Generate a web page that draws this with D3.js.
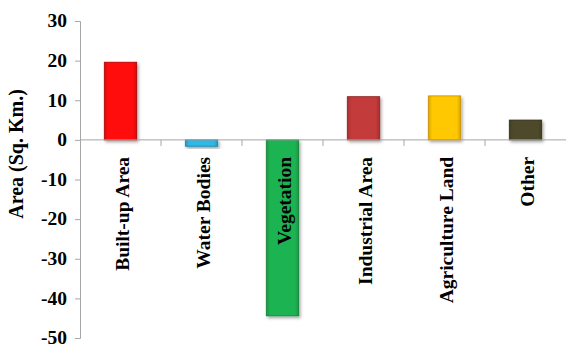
<!DOCTYPE html>
<html>
<head>
<meta charset="utf-8">
<script src="https://cdn.jsdelivr.net/npm/d3@7"></script>
<style>
  body { margin: 0; background: #fff; }
</style>
</head>
<body>
<div id="chart"></div>
<script>
const width = 566;
const height = 347;
const serif = "'Liberation Serif', 'Times New Roman', 'DejaVu Serif', serif";
const categories = ["Built-up Area", "Water Bodies", "Vegetation", "Industrial Area", "Agriculture Land", "Other"];
const values = [19.6, -1.6, -44.4, 10.9, 11.1, 5.0];
const colors = ["#ff1010", "#2fb8e6", "#1eb452", "#c43a3a", "#ffc800", "#4d4a2c"];
const edges = ["#b00000", "#1480a8", "#118035", "#8a2020", "#c89000", "#2e2c18"];
const yTicks = [30, 20, 10, 0, -10, -20, -30, -40, -50];

const margin = { left: 80, top: 21, right: 0, bottom: 9 };

const svg = d3.select("#chart")
    .append("svg")
    .attr("width", width)
    .attr("height", height);

const defs = svg.append("defs");
const shadow = defs.append("filter").attr("id", "shadow")
    .attr("x", "-20%").attr("y", "-20%").attr("width", "150%").attr("height", "150%");
shadow.append("feDropShadow")
    .attr("dx", 1.5).attr("dy", 2).attr("stdDeviation", 1.5)
    .attr("flood-color", "#000").attr("flood-opacity", 0.35);

colors.forEach((c, i) => {
    const g = defs.append("linearGradient").attr("id", "grad" + i)
        .attr("x1", 0).attr("x2", 1).attr("y1", 0).attr("y2", 0);
    g.append("stop").attr("offset", "0%").attr("stop-color", d3.color(c).darker(0.5));
    g.append("stop").attr("offset", "12%").attr("stop-color", c);
    g.append("stop").attr("offset", "88%").attr("stop-color", c);
    g.append("stop").attr("offset", "100%").attr("stop-color", d3.color(c).darker(0.5));
});

const x = d3.scaleBand()
    .domain(categories)
    .range([margin.left, width - margin.right])
    .paddingInner(0.6)
    .paddingOuter(0.3);

const y = d3.scaleLinear()
    .domain([-50, 30])
    .range([height - margin.bottom, margin.top]);

// y axis
const yAxis = svg.append("g")
    .attr("transform", `translate(${margin.left},0)`)
    .call(d3.axisLeft(y).tickValues(yTicks).tickSize(5).tickPadding(8).tickFormat((d) => String(d)));
yAxis.attr("font-family", serif).attr("font-size", 19.5).attr("font-weight", "bold");
yAxis.select(".domain").attr("stroke", "#a6a6a6");
yAxis.selectAll(".tick line").attr("stroke", "#a6a6a6");
yAxis.selectAll(".tick text").attr("fill", "#000").attr("dy", "0.3em");

// bars
const step = x.step();
svg.append("g")
    .selectAll("rect")
    .data(values)
    .enter().append("rect")
    .attr("x", (d, i) => x(categories[i]))
    .attr("width", x.bandwidth())
    .attr("y", (d) => y(Math.max(0, d)))
    .attr("height", (d) => Math.abs(y(d) - y(0)))
    .attr("fill", (d, i) => `url(#grad${i})`)
    .attr("stroke", (d, i) => edges[i])
    .attr("stroke-width", 0.8)
    .attr("filter", "url(#shadow)");

// zero line with category ticks
const zero = svg.append("g");
zero.append("line")
    .attr("x1", margin.left).attr("x2", width)
    .attr("y1", y(0)).attr("y2", y(0))
    .attr("stroke", "#a6a6a6");
zero.selectAll(".ctick")
    .data(categories.slice(1))
    .enter().append("line")
    .attr("x1", (d) => x(d) - (step - x.bandwidth()) / 2)
    .attr("x2", (d) => x(d) - (step - x.bandwidth()) / 2)
    .attr("y1", y(0)).attr("y2", y(0) + 6)
    .attr("stroke", "#a6a6a6");

// category labels
svg.append("g")
    .attr("font-family", serif)
    .attr("font-weight", "bold")
    .attr("font-size", 19.5)
    .selectAll("text")
    .data(categories)
    .enter().append("text")
    .attr("transform", (d) => `translate(${x(d) + x.bandwidth() / 2 + 8},${y(0) + 17}) rotate(-90)`)
    .attr("text-anchor", "end")
    .attr("fill", "#000")
    .text((d) => d);

// y title
svg.append("text")
    .attr("transform", `translate(23,154) rotate(-90)`)
    .attr("text-anchor", "middle")
    .attr("font-family", serif)
    .attr("font-weight", "bold")
    .attr("font-size", 20)
    .attr("fill", "#000")
    .text("Area (Sq. Km.)");
</script>
</body>
</html>
